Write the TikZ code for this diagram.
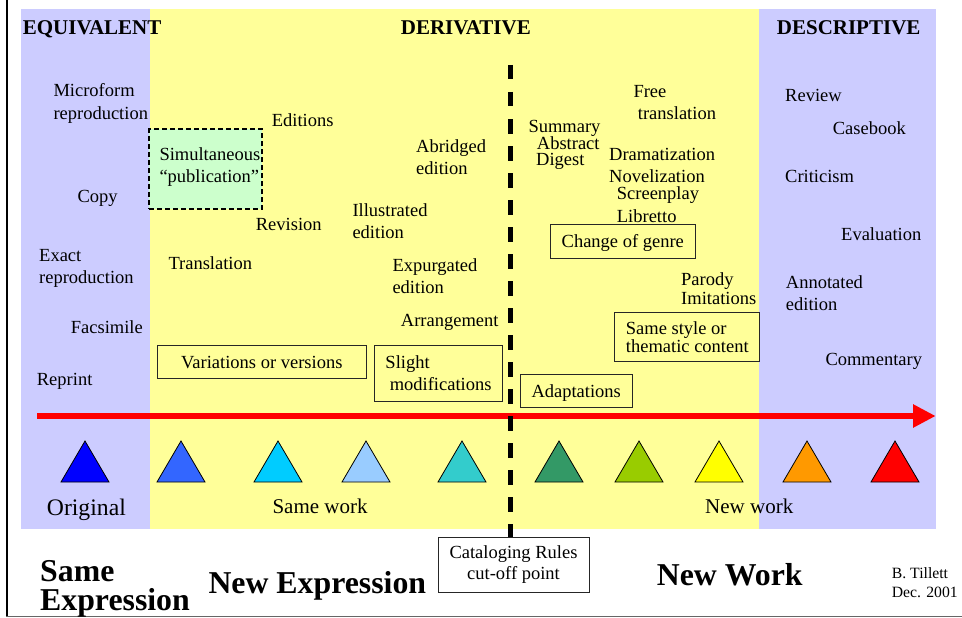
\documentclass[tikz,border=0pt]{standalone}
\usepackage{fontspec}
\setmainfont{Liberation Serif}
\usetikzlibrary{arrows.meta}
\definecolor{panelblue}{HTML}{CCCCFF}
\definecolor{panelyellow}{HTML}{FFFF99}
\definecolor{simgreen}{HTML}{CCFFCC}
\definecolor{tA}{HTML}{0000FF}
\definecolor{tB}{HTML}{3366FF}
\definecolor{tC}{HTML}{00CCFF}
\definecolor{tD}{HTML}{99CCFF}
\definecolor{tE}{HTML}{33CCCC}
\definecolor{tF}{HTML}{339966}
\definecolor{tG}{HTML}{99CC00}
\definecolor{tH}{HTML}{FFFF00}
\definecolor{tI}{HTML}{FF9900}
\definecolor{tJ}{HTML}{FF0000}
\tikzset{
  txt/.style={anchor=base west, inner sep=0pt, align=left, font=\fontsize{18.5}{22.3}\selectfont},
  ttl/.style={anchor=base west, inner sep=0pt, font=\bfseries\fontsize{21}{25}\selectfont},
  bigttl/.style={anchor=base west, inner sep=0pt, align=left, font=\bfseries\fontsize{31.8}{29}\selectfont},
  mid/.style={anchor=base west, inner sep=0pt, font=\fontsize{21}{25}\selectfont},
  boxed/.style={draw=black!85, line width=1pt, inner sep=0pt, font=\fontsize{18.5}{22.3}\selectfont},
  onebox/.style={boxed, text height=13pt, text depth=0pt},
  tri/.style={draw=black, line width=0.8pt, line join=miter},
}
\begin{document}
\begin{tikzpicture}[x=1pt,y=-1pt]
\useasboundingbox (0,0) rectangle (962,618);
\fill[white] (0,0) rectangle (962,618);
% panels
\fill[panelblue] (21,9) rectangle (150,529);
\fill[panelyellow] (150,9) rectangle (759,529);
\fill[panelblue] (759,9) rectangle (935.6,529);
% frame lines
\draw[line width=2pt] (7,0) -- (7,617);
\draw[black!60, line width=1.5pt] (6,616.7) -- (962,616.7);

% red arrow
\coordinate (arrowstart) at (37,416);
\coordinate (arrowend) at (935.7,416);
\draw[red, line width=6pt, -{Triangle[length=22.7pt,width=22pt]}] (arrowstart) -- (arrowend);

% triangles
\foreach \cx/\col in {85/tA,181/tB,278/tC,366/tD,462/tE,559/tF,639/tG,719/tH,807/tI,895/tJ}
  \filldraw[tri, fill=\col] (\cx-24,482) -- (\cx,441) -- (\cx+24,482) -- cycle;

% headings
\node[ttl] (equiv) at (22.7,35) {EQUIVALENT};
\node[ttl] (deriv) at (400.7,35) {DERIVATIVE};
\node[ttl] (descr) at (776.7,35) {DESCRIPTIVE};

% equivalent column (multi-line nodes: base = last line)
\node[txt] (microform) at (53.3,119.3) {Microform\\reproduction};
\node[txt] (copy) at (77.3,202) {Copy};
\node[txt] (exact) at (39,283.3) {Exact\\reproduction};
\node[txt] (facsimile) at (70.7,333.3) {Facsimile};
\node[txt] (reprint) at (36.7,385) {Reprint};

% derivative, same work
\node[draw=black, line width=1.8pt, dash pattern=on 5pt off 3pt, fill=simgreen,
      minimum width=113pt, minimum height=79.7pt, inner sep=0pt] (simbox) at (205.5,169.2) {};
\node[txt, font=\fontsize{18.5}{22.7}\selectfont] (simtext) at (159.3,182.7) {Simultaneous\\“publication”};
\node[txt] (editions) at (271.7,126) {Editions};
\node[txt] (revision) at (255.7,230) {Revision};
\node[txt] (translation) at (168.3,269) {Translation};
\node[txt] (illustrated) at (352.3,238.3) {Illustrated\\edition};
\node[txt] (abridged) at (416,174.3) {Abridged\\edition};
\node[txt] (expurgated) at (392.3,293.3) {Expurgated\\edition};
\node[txt] (arrangement) at (400.7,326) {Arrangement};
\node[onebox, minimum width=209pt, minimum height=33.3pt] (variations) at (261.8,361.7) {Variations or versions};
\node[boxed, align=left, minimum width=128.4pt, minimum height=56pt, font=\fontsize{18.5}{22}\selectfont] (slight) at (438.5,373) {Slight\\\hspace*{4.3pt}modifications};

% derivative, new work
\node[txt, font=\fontsize{18.5}{15.85}\selectfont] (summary) at (528.3,165.7) {Summary\\\hspace*{8.4pt}Abstract\\\hspace*{7.7pt}Digest};
\node[txt, font=\fontsize{18.5}{22}\selectfont] (free) at (633.3,119.3) {Free\\\hspace*{4.4pt}translation};
\node[txt] (dramatization) at (609,160) {Dramatization};
\node[txt] (novelization) at (609,182.7) {Novelization};
\node[txt] (screenplay) at (616.7,199.3) {Screenplay};
\node[txt] (libretto) at (616.7,222.3) {Libretto};
\node[onebox, minimum width=145pt, minimum height=34pt] (genre) at (622.8,241.3) {Change of genre};
\node[txt, font=\fontsize{18.5}{19}\selectfont] (parody) at (681,304) {Parody\\Imitations};
\node[boxed, align=left, minimum width=145.3pt, minimum height=49.3pt, font=\fontsize{18.5}{16.7}\selectfont] (samestyle) at (687.3,337.3) {Same style or\\thematic content};
\node[onebox, minimum width=111.7pt, minimum height=33pt] (adaptations) at (576.2,390.8) {Adaptations};

% descriptive column
\node[txt] (review) at (785,101.7) {Review};
\node[txt] (casebook) at (832.7,134.3) {Casebook};
\node[txt] (criticism) at (785,182.3) {Criticism};
\node[txt] (evaluation) at (841,240) {Evaluation};
\node[txt] (annotated) at (785.7,310.7) {Annotated\\edition};
\node[txt] (commentary) at (825.3,365) {Commentary};

% bottom labels
\node[anchor=base west, inner sep=0pt, font=\fontsize{23.7}{28}\selectfont] (original) at (46.7,515.7) {Original};
\node[mid] (samework) at (272.3,513.3) {Same work};
\node[mid] (newwork) at (705,513.3) {New work};
\node[boxed, align=center, minimum width=151pt, minimum height=55pt, font=\fontsize{18.5}{21.7}\selectfont] (catbox) at (513.5,564.5) {Cataloging Rules\\cut-off point};
\node[bigttl] (sameexpr) at (40,610.7) {Same\\Expression};
\node[bigttl] (newexpr) at (208.3,593.3) {New Expression};
\node[bigttl] (newworkbig) at (656.7,585) {New Work};
\node[anchor=base west, inner sep=0pt, align=left, font=\fontsize{15.7}{19}\selectfont] (author) at (891.7,597.3) {B. Tillett\\Dec. 2001};

% cut-off line
\coordinate (cuttop) at (510.5,65);
\draw[line width=4.5pt, dash pattern=on 14.5pt off 12.5pt] (cuttop) -- (cuttop |- catbox.north);
\end{tikzpicture}
\end{document}
